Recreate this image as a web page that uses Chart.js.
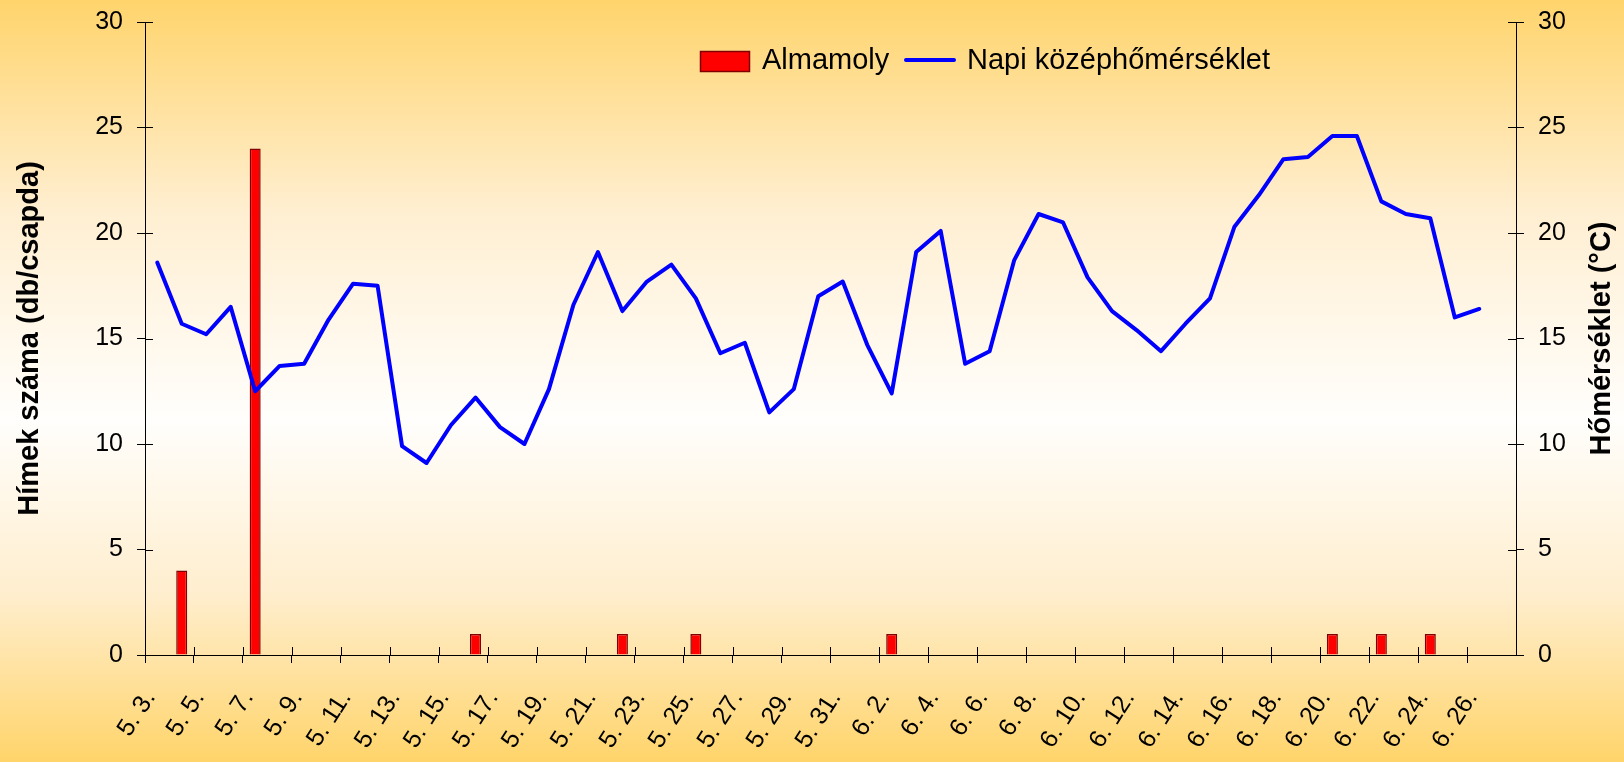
<!DOCTYPE html>
<html>
<head>
<meta charset="utf-8">
<script src="https://cdn.jsdelivr.net/npm/chart.js@4/dist/chart.umd.min.js"></script>
<style>
html,body{margin:0;padding:0;background:#fff;}
#wrap{width:1624px;height:762px;position:relative;}
</style>
</head>
<body>
<div id="wrap"><canvas id="c" width="1624" height="762"></canvas></div>
<script>
// Categories (days, May 3 – June 27)
const dayLabels = [
  "5. 3.","5. 4.","5. 5.","5. 6.","5. 7.","5. 8.","5. 9.","5. 10.","5. 11.","5. 12.",
  "5. 13.","5. 14.","5. 15.","5. 16.","5. 17.","5. 18.","5. 19.","5. 20.","5. 21.","5. 22.",
  "5. 23.","5. 24.","5. 25.","5. 26.","5. 27.","5. 28.","5. 29.","5. 30.","5. 31.",
  "6. 1.","6. 2.","6. 3.","6. 4.","6. 5.","6. 6.","6. 7.","6. 8.","6. 9.","6. 10.",
  "6. 11.","6. 12.","6. 13.","6. 14.","6. 15.","6. 16.","6. 17.","6. 18.","6. 19.","6. 20.",
  "6. 21.","6. 22.","6. 23.","6. 24.","6. 25.","6. 26.","6. 27."
];
// Almamoly – males per trap
const mothCounts = [
  null,4,null,null,24,null,null,null,null,null,
  null,null,null,1,null,null,null,null,null,1,
  null,null,1,null,null,null,null,null,null,
  null,1,null,null,null,null,null,null,null,null,
  null,null,null,null,null,null,null,null,null,1,
  null,1,null,1,null,null,null
];
// Daily mean temperature (°C)
const meanTemps = [
  18.6,15.7,15.2,16.5,12.5,13.7,13.8,15.9,17.6,17.5,
  9.9,9.1,10.9,12.2,10.8,10.0,12.6,16.6,19.1,16.3,
  17.7,18.5,16.9,14.3,14.8,11.5,12.6,17.0,17.7,
  14.7,12.4,19.1,20.1,13.8,14.4,18.7,20.9,20.5,17.9,
  16.3,15.4,14.4,15.7,16.9,20.3,21.8,23.5,23.6,24.6,
  24.6,21.5,20.9,20.7,16.0,16.4,null
];
const axisMax = 30, tickStep = 5;
const leftTitle = "Hímek száma (db/csapda)";
const rightTitle = "Hőmérséklet (°C)";
const seriesNames = ["Almamoly", "Napi középhőmérséklet"];

const FONT = "'Liberation Sans', Arial, sans-serif";
Chart.defaults.font.family = FONT;
Chart.defaults.color = '#000';

const bgPlugin = {
  id: 'bg',
  beforeDraw(chart) {
    const ctx = chart.ctx, h = chart.height, w = chart.width;
    const g = ctx.createLinearGradient(0, 0, 0, h);
    g.addColorStop(0, 'rgb(255,212,108)');
    g.addColorStop(0.28, 'rgb(255,239,210)');
    g.addColorStop(0.55, 'rgb(255,254,252)');
    g.addColorStop(0.78, 'rgb(255,238,206)');
    g.addColorStop(1, 'rgb(255,212,106)');
    ctx.save();
    ctx.fillStyle = g;
    ctx.fillRect(0, 0, w, h);
    ctx.restore();
  }
};

const decoPlugin = {
  id: 'deco',
  afterDraw(chart) {
    const ctx = chart.ctx;
    const x = chart.scales.x, y = chart.scales.y, y1 = chart.scales.y1;
    const ca = chart.chartArea;
    ctx.save();
    ctx.strokeStyle = '#000';
    ctx.lineWidth = 1;
    // inner halves of crossing ticks
    ctx.beginPath();
    y.ticks.forEach(t => {
      const py = Math.round(y.getPixelForValue(t.value)) + 0.5;
      ctx.moveTo(ca.left, py); ctx.lineTo(ca.left + 8, py);
    });
    y1.ticks.forEach(t => {
      const py = Math.round(y1.getPixelForValue(t.value)) + 0.5;
      ctx.moveTo(ca.right - 8, py); ctx.lineTo(ca.right, py);
    });
    const half = (x.getPixelForValue(1) - x.getPixelForValue(0)) / 2;
    for (let i = 0; i <= dayLabels.length; i += 2) {
      const px = Math.round(x.getPixelForValue(i) - half) + 0.5;
      ctx.moveTo(px, ca.bottom - 8); ctx.lineTo(px, ca.bottom);
    }
    ctx.stroke();

    // axis titles (both read bottom-to-top)
    ctx.fillStyle = '#000';
    ctx.font = "bold 29px " + FONT;
    ctx.textAlign = 'center';
    ctx.textBaseline = 'middle';
    const cy = (ca.top + ca.bottom) / 2;
    ctx.save(); ctx.translate(30, cy); ctx.rotate(-Math.PI / 2); ctx.fillText(leftTitle, 0, 0); ctx.restore();
    ctx.save(); ctx.translate(1602, cy); ctx.rotate(-Math.PI / 2); ctx.fillText(rightTitle, 0, 0); ctx.restore();

    // legend
    const ly = 61;
    ctx.font = "29px " + FONT;
    ctx.textAlign = 'left';
    ctx.fillStyle = '#FF0000';
    ctx.fillRect(700, 51, 50, 21);
    ctx.strokeStyle = '#800000';
    ctx.lineWidth = 1.5;
    ctx.strokeRect(700.5, 51.5, 49, 20);
    ctx.fillStyle = '#000';
    ctx.fillText(seriesNames[0], 762, ly);
    ctx.strokeStyle = '#0000FF';
    ctx.lineWidth = 4;
    ctx.lineCap = 'round';
    ctx.beginPath(); ctx.moveTo(906, 60); ctx.lineTo(954, 60); ctx.stroke();
    ctx.fillText(seriesNames[1], 967, ly);
    ctx.restore();
  }
};

new Chart(document.getElementById('c'), {
  type: 'bar',
  data: {
    labels: dayLabels,
    datasets: [
      {
        type: 'line',
        label: seriesNames[1],
        data: meanTemps,
        yAxisID: 'y1',
        borderColor: '#0000FF',
        borderWidth: 4,
        pointRadius: 0,
        tension: 0,
        borderJoinStyle: 'round',
        borderCapStyle: 'round',
        fill: false,
        order: 0
      },
      {
        type: 'bar',
        label: seriesNames[0],
        data: mothCounts,
        yAxisID: 'y',
        backgroundColor: '#FF0000',
        borderColor: '#800000',
        borderWidth: 1.5,
        categoryPercentage: 0.45,
        barPercentage: 1.0,
        order: 1
      }
    ]
  },
  options: {
    responsive: false,
    animation: false,
    devicePixelRatio: 1,
    layout: { padding: { top: 22, left: 0, right: 0, bottom: 0 } },
    plugins: { legend: { display: false }, tooltip: { enabled: false }, title: { display: false } },
    scales: {
      x: {
        offset: true,
        grid: {
          offset: true,
          drawOnChartArea: false,
          drawTicks: true,
          tickLength: 8,
          color: c => (c.index % 2 === 0 ? '#000' : 'rgba(0,0,0,0)'),
          tickColor: c => (c.index % 2 === 0 ? '#000' : 'rgba(0,0,0,0)')
        },
        border: { display: true, color: '#000', width: 1 },
        ticks: {
          autoSkip: false,
          maxRotation: 57,
          minRotation: 57,
          padding: 22,
          labelOffset: -7,
          font: { size: 25 },
          color: '#000',
          callback: (v, i) => (i % 2 === 0 ? dayLabels[i] : '')
        },
        afterFit: s => { s.height = 107; s.paddingLeft = 0; s.paddingRight = 0; }
      },
      y: {
        position: 'left',
        min: 0, max: axisMax,
        grid: { drawOnChartArea: false, tickLength: 8, color: '#000', tickColor: '#000' },
        border: { display: true, color: '#000', width: 1 },
        ticks: { stepSize: tickStep, padding: 14, font: { size: 25 }, color: '#000' },
        afterFit: s => { s.width = 145; s.paddingTop = 0; s.paddingBottom = 0; }
      },
      y1: {
        position: 'right',
        min: 0, max: axisMax,
        grid: { drawOnChartArea: false, tickLength: 8, color: '#000', tickColor: '#000' },
        border: { display: true, color: '#000', width: 1 },
        ticks: { stepSize: tickStep, padding: 14, font: { size: 25 }, color: '#000' },
        afterFit: s => { s.width = 108; s.paddingTop = 0; s.paddingBottom = 0; }
      }
    }
  },
  plugins: [bgPlugin, decoPlugin]
});
</script>
</body>
</html>
